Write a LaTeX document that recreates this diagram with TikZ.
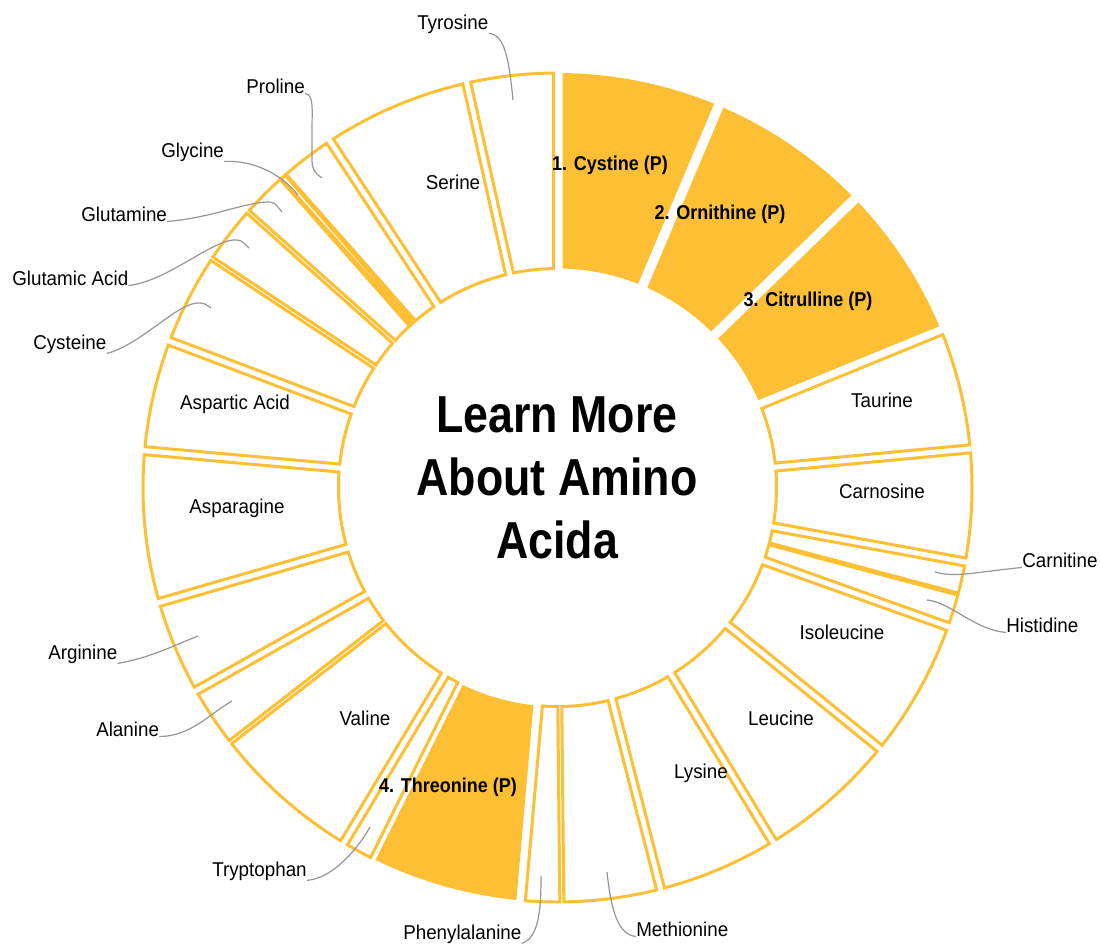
\documentclass[tikz,border=0pt]{standalone}
\usepackage{fontspec}
\setmainfont{Liberation Sans}[FakeStretch=0.94]
\newfontfamily\pickfont{Liberation Sans}[FakeStretch=0.9]
\newfontfamily\titlefont{Liberation Sans}[FakeStretch=0.86]
\usetikzlibrary{positioning}
\definecolor{aminoyellow}{RGB}{253, 192, 52}
\definecolor{aminogray}{RGB}{150, 150, 150}
% one ring piece: style, from, to (degrees clockwise from top), inset at start, inset at end (px)
\newcommand{\aminoslice}[5]{%
  \path[#1] plot[domain={#2+asin(#4/414.5)-90}:{#3-asin(#5/414.5)-90}, samples=50] (\x:414.5)
    -- plot[domain={#3-asin(#5/219)-90}:{#2+asin(#4/219)-90}, samples=30] (\x:219) -- cycle;}

\begin{document}
\begin{tikzpicture}[x=0.75pt, y=-0.75pt,
    every node/.style={font=\fontsize{15}{18}\selectfont, inner sep=0pt},
    ring/.style={draw=aminoyellow, line width=2.25pt, fill=white},
    pick/.style={fill=aminoyellow},
    leader/.style={draw=aminogray, line width=0.9pt},
    tag/.style={anchor=base west},
    inlab/.style={anchor=base},
    picklab/.style={anchor=base, font=\pickfont\bfseries\fontsize{15}{18}\selectfont}]
  \useasboundingbox (0,0) rectangle (1100,943);
  % ring of amino acids
  \begin{scope}[shift={(557.5,487.5)}]
    \foreach \a/\b/\p/\q in {347.35/360/4/4, 67.8/84.65/4/4, 84.65/100.35/4/4, 100.35/104.9/4/1,
        104.9/109.6/1/4, 109.6/129/4/4, 129/148.7/4/4, 148.7/165.6/4/4, 165.6/179.4/4/2,
        179.4/185/2/4, 206.45/211/2.5/4, 211/232.1/4/2, 232.1/240.65/2/4, 240.65/253.9/4/4,
        253.9/275.1/4/4, 275.1/290.65/4/4, 290.65/303.5/4/2, 303.5/311.7/2/2, 311.7/318.55/2/4,
        318.2/318.9/0/0, 318.55/326.7/4/4, 326.7/347.35/4/4}
      {\aminoslice{ring}{\a}{\b}{\p}{\q}}
    % the picked ones
    \foreach \a/\b/\p/\q in {0/22.9/5/5, 22.9/45.85/5/5, 45.85/67.8/5/5, 185/206.45/5/3}
      {\aminoslice{pick}{\a}{\b}{\p}{\q}}
  \end{scope}
  % title
  \node[font=\titlefont\bfseries\fontsize{39}{47}\selectfont, align=center] (title) at (557,478) {Learn More\\About Amino\\Acida};
  % labels inside the ring
  \node[picklab] (cystine) at (610,170) {1. Cystine (P)};
  \node[picklab] (ornithine) at (720,219) {2. Ornithine (P)};
  \node[picklab] (citrulline) at (808,306) {3. Citrulline (P)};
  \node[picklab] (threonine) at (448,792) {4. Threonine (P)};
  \node[inlab] (serine) at (453,189) {Serine};
  \node[inlab] (taurine) at (882,407) {Taurine};
  \node[inlab] (carnosine) at (882,498) {Carnosine};
  \node[inlab] (isoleucine) at (842,639) {Isoleucine};
  \node[inlab] (leucine) at (781,725) {Leucine};
  \node[inlab] (lysine) at (701,778) {Lysine};
  \node[inlab] (valine) at (365,725) {Valine};
  \node[inlab] (asparagine) at (237,513) {Asparagine};
  \node[inlab] (asparticacid) at (235,409) {Aspartic Acid};
  % labels outside the ring
  \node[tag] (tyrosine) at (417,29) {Tyrosine};
  \node[tag] (proline) at (246,93) {Proline};
  \node[tag] (glycine) at (161,157) {Glycine};
  \node[tag] (glutamine) at (81,221) {Glutamine};
  \node[tag] (glutamicacid) at (12,285) {Glutamic Acid};
  \node[tag] (cysteine) at (33,349) {Cysteine};
  \node[tag] (arginine) at (48,659) {Arginine};
  \node[tag] (alanine) at (96,736) {Alanine};
  \node[tag] (tryptophan) at (212,876) {Tryptophan};
  \node[tag] (phenylalanine) at (403,939) {Phenylalanine};
  \node[tag] (methionine) at (636,936) {Methionine};
  \node[tag] (histidine) at (1006,632) {Histidine};
  \node[tag] (carnitine) at (1022,567) {Carnitine};
  % leader ends
  \coordinate (tyrosine-in) at (513,100);
  \coordinate (proline-in) at (322,178);
  \coordinate (glycine-in) at (298,195);
  \coordinate (glutamine-in) at (282,212);
  \coordinate (glutamicacid-in) at (249,248);
  \coordinate (cysteine-in) at (211,308);
  \coordinate (arginine-in) at (198,636);
  \coordinate (alanine-in) at (232,701);
  \coordinate (tryptophan-in) at (370,827);
  \coordinate (phenylalanine-in) at (541,876);
  \coordinate (methionine-in) at (607,872);
  \coordinate (histidine-in) at (927,600);
  \coordinate (carnitine-in) at (935,572);
  % leaders
  \draw[leader] (tyrosine.south east) .. controls (505,34) and (509,60) .. (tyrosine-in);
  \draw[leader] (proline.south east) .. controls (314,94) and (312,110) .. (312,130) -- (312,160) .. controls (312,170) and (316,174) .. (proline-in);
  \draw[leader] (glycine.south east) .. controls (255,160) and (282,175) .. (glycine-in);
  \draw[leader] (glutamine.south east) .. controls (210,218) and (240,204) .. (266,202) .. controls (274,202) .. (glutamine-in);
  \draw[leader] (glutamicacid.south east) .. controls (165,282) and (210,242) .. (233,240) .. controls (241,240) .. (glutamicacid-in);
  \draw[leader] (cysteine.south east) .. controls (140,345) and (175,305) .. (197,303) .. controls (204,303) .. (cysteine-in);
  \draw[leader] (arginine.south east) .. controls (150,658) and (175,645) .. (arginine-in);
  \draw[leader] (alanine.south east) .. controls (190,737) and (212,712) .. (alanine-in);
  \draw[leader] (tryptophan.south east) .. controls (335,878) and (360,845) .. (tryptophan-in);
  \draw[leader] (phenylalanine.south east) .. controls (540,938) and (541,905) .. (phenylalanine-in);
  \draw[leader] (methionine-in) .. controls (611,910) and (618,935) .. (methionine.south west);
  \draw[leader] (histidine-in) .. controls (950,602) and (975,630) .. (histidine.south west);
  \draw[leader] (carnitine-in) .. controls (955,578) and (975,572) .. (carnitine.south west);
\end{tikzpicture}
\end{document}
